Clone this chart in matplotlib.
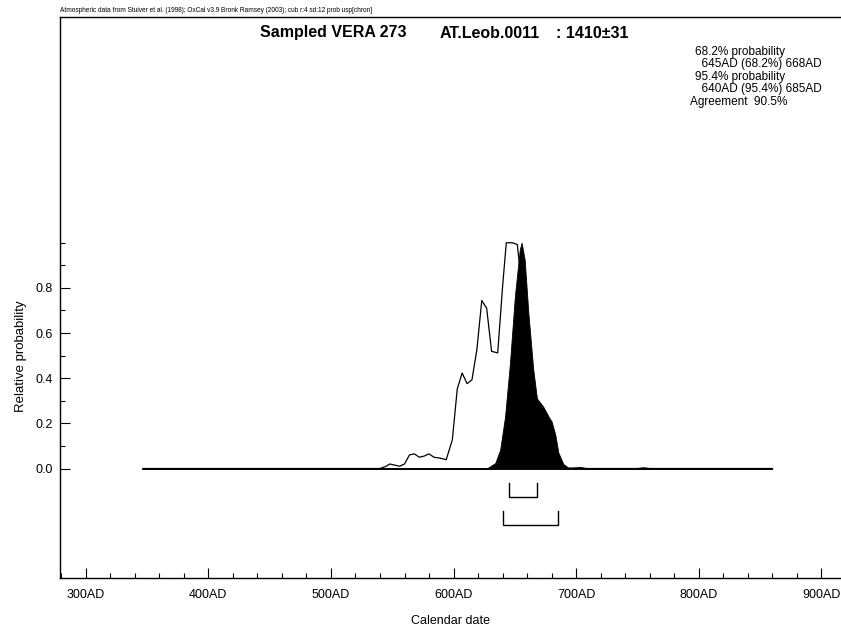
import matplotlib
matplotlib.use("Agg")
import matplotlib.pyplot as plt
from matplotlib.ticker import MultipleLocator, FixedLocator

plt.rcParams['font.family'] = ['Liberation Sans', 'DejaVu Sans']

# Unmodelled (prior) calibrated distribution, drawn as outline
prior_year = [347, 400, 500, 540, 545, 548, 552, 556, 560, 564, 568, 572, 576,
              580, 584, 589, 594, 599, 603, 607, 611, 615, 619, 623, 627, 631,
              636, 640, 643, 648, 652, 653, 656, 660, 664, 668, 674, 680, 686,
              690, 700, 704, 708, 750, 755, 760, 860]
prior_prob = [0.0, 0.0, 0.0, 0.0, 0.01, 0.02, 0.015, 0.01, 0.02, 0.06, 0.065,
              0.05, 0.055, 0.065, 0.05, 0.046, 0.039, 0.127, 0.352, 0.423,
              0.376, 0.393, 0.526, 0.744, 0.71, 0.519, 0.512, 0.807, 1.0, 1.0,
              0.992, 0.94, 0.8, 0.55, 0.35, 0.22, 0.15, 0.1, 0.04, 0.0, 0.003,
              0.004, 0.0, 0.0, 0.003, 0.0, 0.0]

# Modelled (posterior) distribution, drawn filled
post_year = [347, 620, 627, 634, 638, 642, 646, 650, 654, 655.5, 658, 661, 665,
             668, 673, 678, 680, 683, 685.5, 689.5, 693.5, 700, 703, 706, 860]
post_prob = [0.0, 0.0, 0.0, 0.024, 0.083, 0.23, 0.467, 0.763, 0.97, 1.0, 0.925,
             0.689, 0.438, 0.31, 0.275, 0.225, 0.208, 0.149, 0.07, 0.02, 0.004,
             0.0, 0.004, 0.0, 0.0]

# Highest posterior density ranges
range_68 = (645, 668)
range_95 = (640, 685)

x_ticks = [300, 400, 500, 600, 700, 800, 900]
x_tick_labels = ['300AD', '400AD', '500AD', '600AD', '700AD', '800AD', '900AD']
y_ticks = [0.0, 0.2, 0.4, 0.6, 0.8]
y_tick_labels = ['0.0', '0.2', '0.4', '0.6', '0.8']

summary_lines = [
    ("68.2% probability", 0.826),
    ("  645AD (68.2%) 668AD", 0.826),
    ("95.4% probability", 0.826),
    ("  640AD (95.4%) 685AD", 0.826),
    ("Agreement  90.5%", 0.820),
]

fig = plt.figure(figsize=(8.41, 6.28), dpi=100)
ax = fig.add_axes([60 / 841, 1 - 578 / 628, 1 - 60 / 841, (578 - 17) / 628])

ax.plot(prior_year, prior_prob, color='black', lw=0.9, zorder=2)
ax.fill_between(post_year, post_prob, 0, color='black', lw=0.6, zorder=3)
ax.plot([347, 860], [0, 0], color='black', lw=1.3, zorder=4)

# Range brackets beneath the curve
for (lo, hi), (top, bot) in [(range_68, (-0.063, -0.124)),
                             (range_95, (-0.188, -0.25))]:
    ax.plot([lo, lo, hi, hi], [top, bot, bot, top], color='black', lw=1.0,
            solid_joinstyle='miter')

ax.set_xlim(279, 916)
ax.set_ylim(-0.485, 2.0)

ax.xaxis.set_major_locator(FixedLocator(x_ticks))
ax.set_xticklabels(x_tick_labels)
ax.xaxis.set_minor_locator(MultipleLocator(20))
ax.yaxis.set_major_locator(FixedLocator(y_ticks))
ax.set_yticklabels(y_tick_labels)
ax.yaxis.set_minor_locator(FixedLocator([0.1, 0.3, 0.5, 0.7, 0.9, 1.0]))

ax.tick_params(which='major', direction='in', length=7, width=0.8,
               labelsize=9, pad=8)
ax.tick_params(which='minor', direction='in', length=3.5, width=0.8)
ax.tick_params(axis='y', which='major', pad=5)

for side in ('left', 'top', 'bottom'):
    ax.spines[side].set_linewidth(1.0)
ax.spines['right'].set_visible(False)

ax.set_xlabel('Calendar date', fontsize=9, labelpad=10)
ax.set_ylabel('Relative probability', fontsize=9.5)
# Centre the y label on the labelled probability range
ax.yaxis.set_label_coords(-0.042, 0.396)

fig.text(60 / 841, 1 - 10 / 628,
         'Atmospheric data from Stuiver et al. (1998); OxCal v3.9 Bronk Ramsey '
         '(2003); cub r:4 sd:12 prob usp[chron]',
         fontsize=4.7, va='center', ha='left')

title_y = 1 - 33 / 628
fig.text(260 / 841, title_y, 'Sampled VERA 273', fontsize=11.5,
         fontweight='bold', va='center', ha='left')
fig.text(440 / 841, title_y, 'AT.Leob.0011', fontsize=11.5,
         fontweight='bold', va='center', ha='left')
fig.text(556 / 841, title_y, ': 1410\u00b131', fontsize=11.5,
         fontweight='bold', va='center', ha='left')

for i, (line, xpos) in enumerate(summary_lines):
    fig.text(xpos, 1 - (52 + 12.4 * i) / 628, line, fontsize=8.5,
             va='center', ha='left')

fig.savefig('out.png', dpi=100)
